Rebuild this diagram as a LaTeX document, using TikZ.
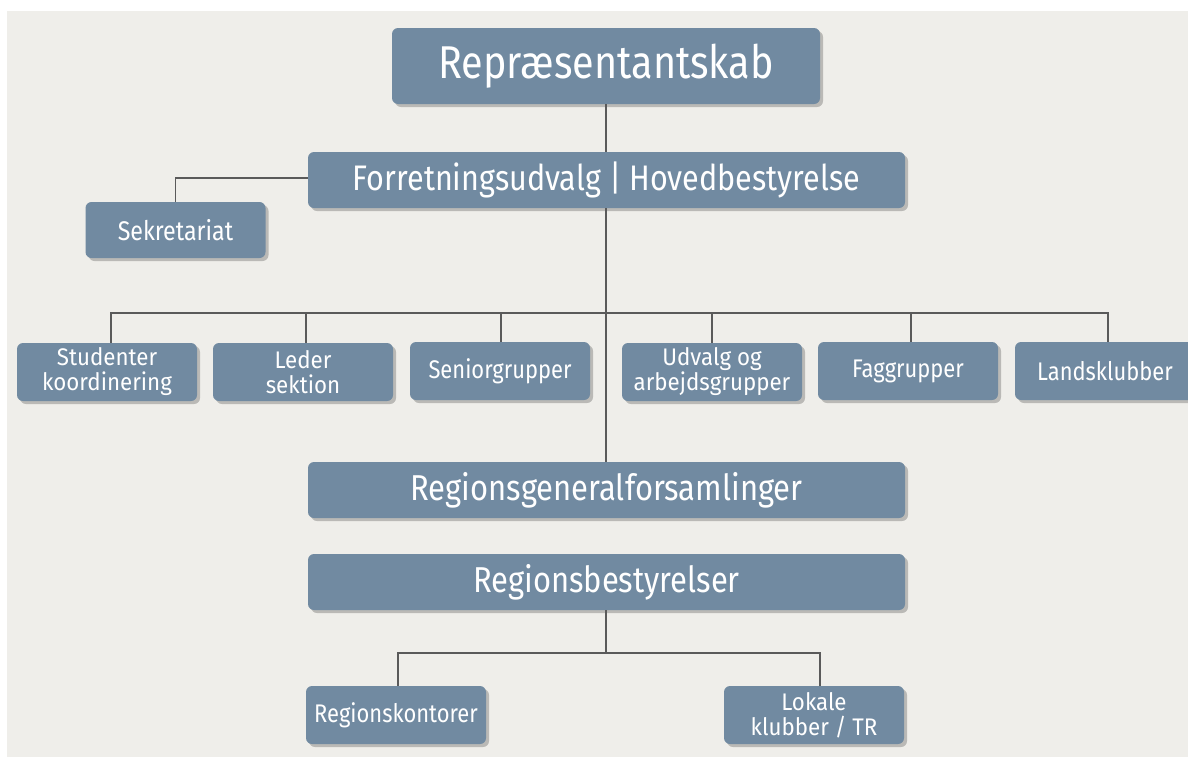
\documentclass[tikz,border=0pt]{standalone}
\usepackage{fontspec}
\setmainfont{Fira Sans}[FakeStretch=0.86]
\newfontfamily\twolinefont{Fira Sans}[FakeStretch=0.93]
\usetikzlibrary{shadows}
\definecolor{bgc}{HTML}{EFEEEA}
\definecolor{boxc}{HTML}{718AA1}
\definecolor{linec}{HTML}{5A5A5A}
\tikzset{
  orgbox/.style={fill=boxc, draw=none, rounded corners=6pt, text=white, align=center,
    inner sep=0pt, drop shadow={shadow xshift=3pt, shadow yshift=-3pt, opacity=0.22, fill=black}},
  bigbox/.style={orgbox, minimum width=597pt, minimum height=56pt, font=\fontsize{36}{36}\selectfont},
  smallbox/.style={orgbox, minimum width=180pt, minimum height=58pt, font=\fontsize{25.5}{21}\selectfont},
  twoline/.style={smallbox, font=\twolinefont\fontsize{24}{25}\selectfont}
}
\tikzset{conn/.style={draw=linec, line width=1.4pt}}
\begin{document}
\begin{tikzpicture}[x=1pt,y=-1pt]
\useasboundingbox (0,0) rectangle (1188,758);
\fill[white] (0,0) rectangle (1188,758);
\fill[bgc] (7,11) rectangle (1188,757);
\clip (7,11) rectangle (1188,757);

\node[orgbox, minimum width=428pt, minimum height=76pt, font=\fontsize{46}{46}\selectfont] (rep) at (606,66) {Repræsentantskab};
\node[bigbox, font=\fontsize{35.5}{36}\selectfont] (fu) at (606.5,180) {Forretningsudvalg | Hovedbestyrelse};
\node[orgbox, minimum width=180pt, minimum height=56pt, font=\fontsize{27}{27}\selectfont] (sek) at (175.5,230) {Sekretariat};

\node[twoline] (stud) at (107,372) {Studenter\\koordinering};
\node[twoline] (led) at (303,372) {Leder\\sektion};
\node[smallbox] (sen) at (500,371) {Seniorgrupper};
\node[twoline] (udv) at (712,372) {Udvalg og\\arbejdsgrupper};
\node[smallbox] (fag) at (908,371) {Faggrupper};
\node[smallbox] (land) at (1105,371) {Landsklubber};

\node[bigbox] (rgf) at (606.5,490) {Regionsgeneralforsamlinger};
\node[bigbox] (rb) at (606.5,582) {Regionsbestyrelser};

\node[smallbox] (rk) at (396,715) {Regionskontorer};
\node[twoline] (lk) at (814,715) {Lokale\\klubber / TR};

\coordinate (bus) at (606,313);
\coordinate (bus2) at (606,653);

\path[conn] (rep.south -| 606,0) -- (fu.north -| 606,0);
\path[conn] (fu.west |- 0,178) -| (sek.north);
\path[conn] (fu.south -| 606,0) -- (rgf.north -| 606,0);
\path[conn] ([xshift=4pt]stud.north) |- (bus) -| ([xshift=3pt]land.north);
\path[conn] ([xshift=3pt]led.north) -- ([xshift=3pt]led.north |- bus);
\path[conn] ([xshift=1pt]sen.north) -- ([xshift=1pt]sen.north |- bus);
\path[conn] (udv.north) -- (udv.north |- bus);
\path[conn] ([xshift=3pt]fag.north) -- ([xshift=3pt]fag.north |- bus);
\path[conn] (rb.south -| 606,0) -- (bus2);
\path[conn] ([xshift=2pt]rk.north) |- (bus2) -| ([xshift=6pt]lk.north);
\end{tikzpicture}
\end{document}
